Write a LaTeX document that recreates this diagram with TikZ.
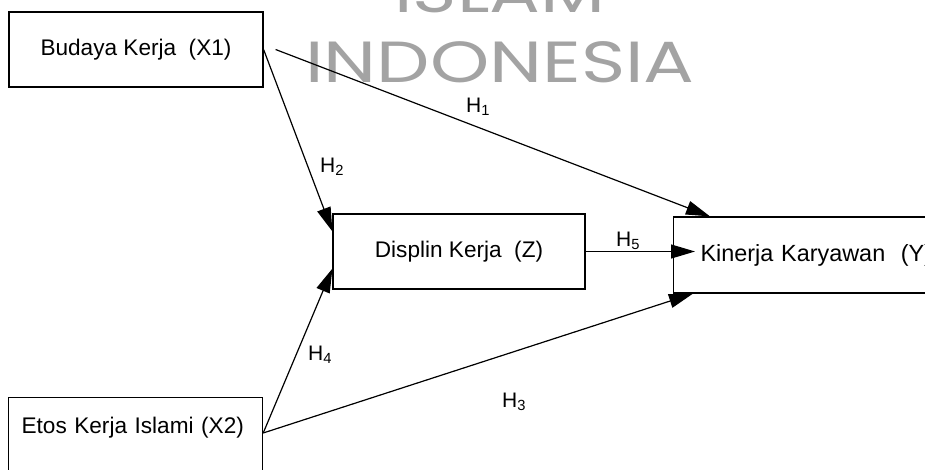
\documentclass[tikz,border=0pt]{standalone}
\usepackage{fontspec}
\setmainfont{Liberation Sans}
\newfontfamily\wmfont{Poppins}
\usetikzlibrary{arrows.meta,calc}
\definecolor{wmgray}{HTML}{A3A3A3}
\begin{document}
\begin{tikzpicture}[x=1pt,y=-1pt,
  box/.style={draw, line width=1.2pt, inner sep=0pt, font=\fontsize{22.6}{26}\selectfont},
  link/.style={line width=1.2pt, -{Triangle[length=24pt,width=14pt]}},
  hlab/.style={font=\fontsize{21}{25}\selectfont, inner sep=0pt},
  wm/.style={text=wmgray, font=\wmfont\fontsize{58}{60}\selectfont, inner sep=0pt}]
\useasboundingbox (0,0) rectangle (925,470);
\clip (0,0) rectangle (925,470);
\fill[white] (0,0) rectangle (925,470);
\node[wm, anchor=base] (wm1) at (500,13) {\scalebox{1.3}[1]{ISLAM}};
\node[wm, anchor=base] (wm2) at (500,83) {\scalebox{1.3}[1]{INDONESIA}};
\node[box, minimum width=254pt, minimum height=75pt] (bud) at (136,49.5) {Budaya Kerja~ (X1)};
\node[box, minimum width=252pt, minimum height=75pt] (dis) at (459,251.5) {Displin Kerja~ (Z)};
\node[box, anchor=west, minimum height=76pt, text width=260pt, align=left, inner xsep=27pt, font=\fontsize{23.4}{26}\selectfont] (kin) at (673,255) {Kinerja Karyawan~ (Y)};
\node[box, anchor=north west, text width=228pt, align=left, inner xsep=13pt, text height=36pt, text depth=60pt] (eto) at (8,397) {Etos Kerja Islami (X2)};
\coordinate (eo) at ($(eto.north east)+(0,36)$);
\draw[link] ($(bud.east)+(12,0)$) -- ($(kin.north west)+(37,0)$);
\draw[link] (bud.east) -- ($(dis.north west)+(0,18)$);
\draw[link] (dis.east) -- ($(kin.west |- dis.east)+(22,0)$);
\draw[link] (eo) -- ($(dis.south west)+(0,-21)$);
\draw[link] (eo) -- ($(kin.south west)+(20,0)$);
\node[hlab] (h1) at (478,107) {H\textsubscript{1}};
\node[hlab] (h2) at (332,167) {H\textsubscript{2}};
\node[hlab] (h3) at (514,402) {H\textsubscript{3}};
\node[hlab] (h4) at (320,355) {H\textsubscript{4}};
\node[hlab] (h5) at (628,241) {H\textsubscript{5}};
\end{tikzpicture}
\end{document}
